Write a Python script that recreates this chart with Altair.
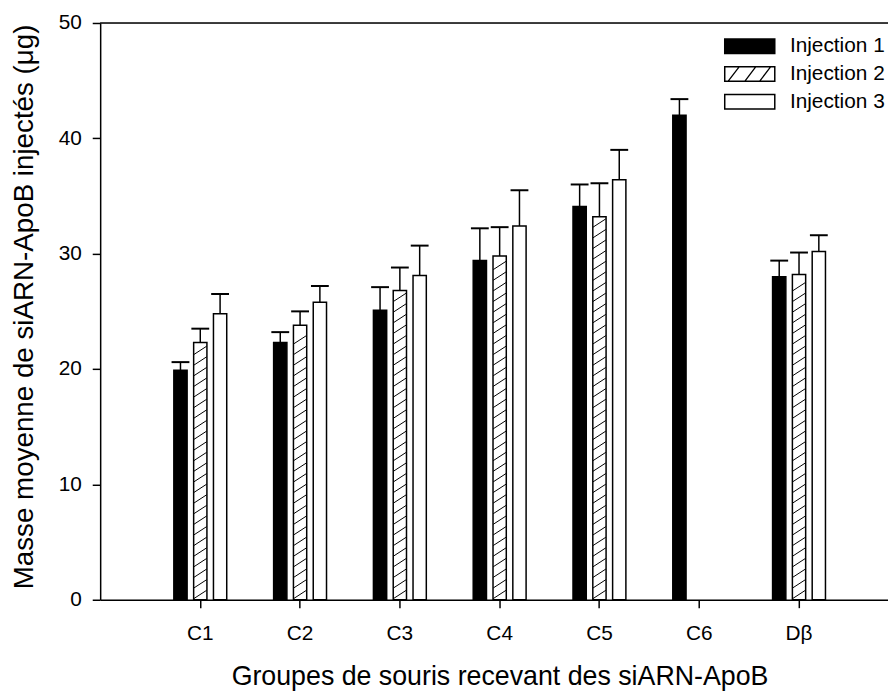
import altair as alt
import pandas as pd
import numpy as np

groups = ["C1", "C2", "C3", "C4", "C5", "C6", "Dβ"]
series = ["Injection 1", "Injection 2", "Injection 3"]
inj1_mean = [19.9, 22.3, 25.1, 29.4, 34.1, 42.0, 28.0]
inj1_err = [0.7, 0.9, 2.0, 2.8, 1.9, 1.4, 1.4]
inj2_mean = [22.3, 23.8, 26.8, 29.8, 33.2, None, 28.2]
inj2_err = [1.2, 1.2, 2.0, 2.5, 2.9, None, 1.9]
inj3_mean = [24.8, 25.8, 28.1, 32.4, 36.4, None, 30.2]
inj3_err = [1.7, 1.4, 2.6, 3.1, 2.6, None, 1.4]

rows = []
for s, means, errs in zip(series, [inj1_mean, inj2_mean, inj3_mean], [inj1_err, inj2_err, inj3_err]):
    for g, m, e in zip(groups, means, errs):
        if m is None:
            continue
        rows.append({"groupe": g, "injection": s, "valeur": m, "haut": m + e})
df = pd.DataFrame(rows)

# hatch texture for the "Injection 2" bars (decoration derived from bar heights)
hatch_rows = []
for _, r in df[df["injection"] == "Injection 2"].iterrows():
    for yy in np.arange(0.46, r["valeur"] - 0.35, 0.92):
        hatch_rows.append({"groupe": r["groupe"], "injection": r["injection"], "y": float(yy)})
hatch = pd.DataFrame(hatch_rows)

FONT = "Liberation Sans"

# legend symbols drawn as filled outlines (frame = outer rect minus inner rect)
solid = "M-4,-1.23H4V1.23H-4Z"
frame = solid + " M-3.77,-1V1H3.77V-1Z"
def slash(xb, xt):
    return f" M{xb},1L{xb + 0.25:.2f},1L{xt + 0.25:.2f},-1L{xt},-1Z"
frame_hatch = frame + slash(-3.4, -1.85) + slash(-0.8, 0.72) + slash(1.5, 3.03)
shape_scale = alt.Scale(domain=series, range=[solid, frame_hatch, frame])
legend_color = alt.Scale(domain=series, range=["black", "black", "black"])

x_enc = alt.X(
    "groupe:N",
    sort=groups,
    scale=alt.Scale(paddingInner=0.2, paddingOuter=0.5475, align=0.551),
    axis=alt.Axis(
        title="Groupes de souris recevant des siARN-ApoB",
        labelAngle=0, tickSize=8, labelPadding=15, labelFontSize=21,
        labelColor="black", domainColor="black", tickColor="black",
        domainWidth=1.5, tickWidth=1.5,
        titleX=403, titleY=86, titleAlign="center", titleBaseline="alphabetic",
        titleFontSize=27, titleFontWeight="normal", titleColor="black",
    ),
)
xo_enc = alt.XOffset("injection:N", sort=series,
                     scale=alt.Scale(domain=series, paddingInner=0.33, paddingOuter=0.68))
y_scale = alt.Scale(domain=[0, 50], nice=False)
y_axis = alt.Axis(
    title="Masse moyenne de siARN-ApoB injectés (μg)",
    values=[0, 10, 20, 30, 40, 50], grid=False,
    tickSize=8, labelPadding=11, labelFontSize=21, labelColor="black",
    domainColor="black", tickColor="black", domainWidth=1.5, tickWidth=1.5,
    titleX=-68, titleY=286, titleAngle=270, titleAlign="center",
    titleBaseline="alphabetic", titleFontSize=28, titleFontWeight="normal",
    titleColor="black",
)

leg = dict(
    title=None, orient="none", legendX=645, legendY=13, padding=0,
    symbolSize=169, symbolStrokeWidth=0,
    labelFontSize=21, labelOffset=30, labelColor="black", rowPadding=6,
    symbolOpacity=1,
)

base = alt.Chart(df)

bars = base.mark_bar(stroke="black", strokeWidth=1.5).encode(
    x=x_enc,
    xOffset=xo_enc,
    y=alt.Y("valeur:Q", scale=y_scale, axis=y_axis),
    fill=alt.condition("datum.injection == 'Injection 1'", alt.value("black"), alt.value("white")),
)

hatch_layer = alt.Chart(hatch).mark_point(
    shape="M-1,0.65L1,-0.65", size=169, filled=False, stroke="black", strokeWidth=1, opacity=1
).encode(
    x=alt.X("groupe:N", sort=groups),
    xOffset=alt.XOffset("injection:N", sort=series),
    y=alt.Y("y:Q"),
)

err_rule = base.mark_rule(color="black", strokeWidth=1.5).encode(
    x=alt.X("groupe:N", sort=groups),
    xOffset=alt.XOffset("injection:N", sort=series),
    y=alt.Y("valeur:Q"),
    y2="haut:Q",
)

err_cap = base.mark_tick(color="black", thickness=2, size=18, opacity=1).encode(
    x=alt.X("groupe:N", sort=groups),
    xOffset=alt.XOffset("injection:N", sort=series),
    y=alt.Y("haut:Q"),
)

top_line = alt.Chart(pd.DataFrame({"y": [50]})).mark_rule(color="black", strokeWidth=1.5).encode(
    y=alt.Y("y:Q")
)

legend_carrier = base.mark_point(
    filled=True, opacity=0, size=0
).encode(
    x=alt.X("groupe:N", sort=groups),
    xOffset=alt.XOffset("injection:N", sort=series),
    y=alt.Y("valeur:Q"),
    color=alt.Color("injection:N", scale=legend_color, legend=alt.Legend(**leg)),
    shape=alt.Shape("injection:N", scale=shape_scale, legend=alt.Legend(**leg)),
)

chart = alt.layer(bars, hatch_layer, err_rule, err_cap, top_line, legend_carrier).properties(
    width=795,
    height=582,
    autosize=alt.AutoSizeParams(type="none"),
    padding={"left": 93, "top": 12, "right": 0, "bottom": 93},
    background="white",
).configure_view(stroke=None).configure(font=FONT).configure_axis(
    labelFont=FONT, titleFont=FONT
).configure_legend(labelFont=FONT)

chart.save("out.html", embed_options={"renderer": "svg", "actions": False})
